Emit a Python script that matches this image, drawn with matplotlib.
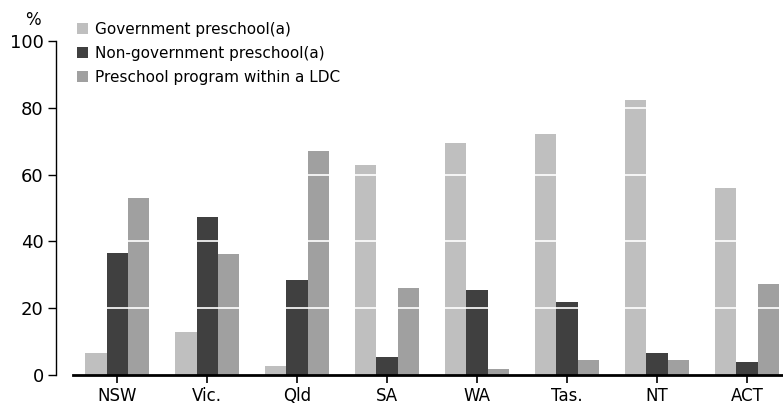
import matplotlib
matplotlib.use("Agg")
import matplotlib.pyplot as plt
from matplotlib.patches import Patch
import numpy as np

# preschool program type by state, %
states = ["NSW", "Vic.", "Qld", "SA", "WA", "Tas.", "NT", "ACT"]
gov_preschool = [6.5, 12.8, 2.6, 62.9, 69.5, 72.2, 82.4, 56.0]
nongov_preschool = [36.5, 47.3, 28.4, 5.3, 25.4, 21.8, 6.5, 3.8]
ldc_program = [53.0, 36.2, 67.0, 26.0, 1.7, 4.4, 4.4, 27.2]
series_names = ["Government preschool(a)", "Non-government preschool(a)",
                "Preschool program within a LDC"]
colours = ["#bfbfbf", "#404040", "#a0a0a0"]

W, H = 783, 405
fig = plt.figure(figsize=(W / 100, H / 100), dpi=100)
ax = fig.add_axes([73 / W, (H - 374.5) / H, 1 - 73 / W, (374.5 - 41.3) / H])

x = np.arange(len(states))
bw = 0.235
for i, vals in enumerate([gov_preschool, nongov_preschool, ldc_program]):
    ax.bar(x + (i - 1) * bw, vals, width=bw, color=colours[i], zorder=2)

# white gridlines only show up across the bars
for g in [20, 40, 60, 80]:
    ax.axhline(g, color="white", lw=1.2, zorder=3)

ax.set_xlim(-0.49, 7.4)
ax.set_ylim(0, 100)
ax.set_yticks([0, 20, 40, 60, 80, 100])
ax.set_xticks(x)
ax.set_xticklabels(states)

for s in ["top", "right"]:
    ax.spines[s].set_visible(False)
ax.spines["left"].set_position(("outward", 12))
ax.spines["left"].set_linewidth(1.0)
ax.spines["bottom"].set_linewidth(2.0)
ax.tick_params(axis="y", length=6, width=1, labelsize=13, pad=3)
ax.tick_params(axis="x", length=6, width=1.2, labelsize=12, pad=3)

fig.text(33 / W, 1 - 20 / H, "%", ha="center", va="center", fontsize=12)

handles = [Patch(facecolor=c, edgecolor="none") for c in colours]
fig.legend(handles, series_names, loc="upper left",
           bbox_to_anchor=(77 / W, 1 - 22 / H), frameon=False,
           borderpad=0, borderaxespad=0, handlelength=0.72, handleheight=0.72,
           handletextpad=0.45, labelspacing=0.58, fontsize=11)

fig.savefig("out.png", dpi=100)
